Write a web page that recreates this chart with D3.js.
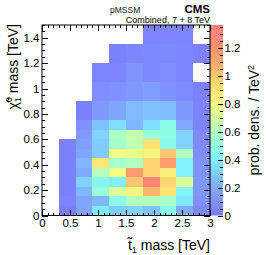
<!DOCTYPE html>
<html>
<head>
<meta charset="utf-8">
<script src="https://cdn.jsdelivr.net/npm/d3@7"></script>
<style>
  body { margin: 0; background: #fff; }
  svg { display: block; font-family: "Liberation Sans", Arial, sans-serif; }
</style>
</head>
<body>
<div id="chart"></div>
<script>
// bin edges [TeV]
const stopEdges = [0, 0.3, 0.6, 0.9, 1.2, 1.5, 1.8, 2.1, 2.4, 2.7, 3.0]
const lspEdges = [0, 0.075, 0.15, 0.225, 0.3, 0.375, 0.45, 0.525, 0.6, 0.675, 0.75, 0.9, 1.05, 1.2, 1.35, 1.5]

// prob. density per bin, one row per neutralino mass bin (lowest first), null = empty bin
const density = [
	[null, 0.02, 0.18, 0.38, 0.30, 0.32, 0.27, 0.46, 0.20, 0.06],
	[null, 0.04, 0.18, 0.24, 0.46, 0.60, 0.60, 0.56, 0.38, 0.10],
	[null, 0.03, 0.24, 0.52, 0.72, 0.82, 1.05, 0.90, 0.42, 0.12],
	[null, 0.03, 0.32, 0.44, 0.40, 1.00, 1.30, 0.95, 0.72, 0.12],
	[null, 0.03, 0.20, 0.60, 0.80, 1.15, 0.95, 0.85, 0.42, 0.10],
	[null, 0.03, 0.24, 0.88, 0.56, 0.60, 0.95, 1.15, 0.42, 0.10],
	[null, 0.03, 0.18, 0.30, 0.80, 0.77, 0.82, 1.00, 0.60, 0.08],
	[null, 0.03, 0.15, 0.30, 0.56, 0.64, 0.90, 0.46, 0.32, 0.06],
	[null, null, 0.13, 0.32, 0.58, 0.65, 0.52, 0.48, 0.32, 0.06],
	[null, null, 0.09, 0.27, 0.35, 0.24, 0.35, 0.48, 0.20, 0.04],
	[null, null, 0.03, 0.13, 0.18, 0.25, 0.27, 0.25, 0.13, 0.04],
	[null, null, null, 0.08, 0.09, 0.12, 0.15, 0.09, 0.07, 0.03],
	[null, null, null, 0.04, 0.04, 0.10, 0.06, 0.08, 0.05, null],
	[null, null, null, null, 0.03, 0.05, 0.06, 0.06, 0.05, 0.03],
	[null, null, null, null, null, null, 0.04, 0.05, 0.04, null]
]

const xTicks = [0, 0.5, 1, 1.5, 2, 2.5, 3]
const yTicks = [0, 0.2, 0.4, 0.6, 0.8, 1, 1.2, 1.4]
const zTicks = [0, 0.2, 0.4, 0.6, 0.8, 1, 1.2]
const zMax = 1.362

// palette (ROOT-like rainbow, washed out)
const paletteValues = [0, 0.1, 0.2, 0.3, 0.4, 0.5, 0.6, 0.7, 0.8, 0.9, 1.0, 1.1, 1.2, 1.362]
const paletteColors = ['#7a7aff', '#8092ff', '#80aaff', '#80ccff', '#80f0ff', '#92ffe0', '#b2ffc0',
	'#d6ff9c', '#f4fc84', '#ffe274', '#ffc672', '#ffa86c', '#ff9070', '#ff7f7f']

const width = 266, height = 255
const padLeft = 42, padRight = 210, padTop = 25, padBottom = 215.5
const barLeft = 210, barRight = 223

const x = d3.scaleLinear().domain([0, 3]).range([padLeft, padRight])
const y = d3.scaleLinear().domain([0, 1.5]).range([padBottom, padTop])
const z = d3.scaleLinear().domain([0, zMax]).range([padBottom, padTop])
const color = d3.scaleLinear().domain(paletteValues).range(paletteColors).clamp(true)

const fmt = d3.format('~g')
const font = '"Liberation Sans", Arial, sans-serif'

const svg = d3.select('#chart').append('svg')
	.attr('width', width)
	.attr('height', height)

// *** cells ***
const cells = []
density.forEach((row, i) => {
	row.forEach((v, j) => {
		if (v != null) cells.push({i, j, v})
	})
})

svg.append('g')
	.attr('class', 'cells')
	.selectAll('rect')
	.data(cells)
	.enter().append('rect')
	.attr('x', d => x(stopEdges[d.j]))
	.attr('y', d => y(lspEdges[d.i + 1]))
	.attr('width', d => x(stopEdges[d.j + 1]) - x(stopEdges[d.j]))
	.attr('height', d => y(lspEdges[d.i]) - y(lspEdges[d.i + 1]))
	.attr('fill', d => color(d.v))
	.attr('shape-rendering', 'crispEdges')

// *** colour bar ***
const grad = svg.append('defs').append('linearGradient')
	.attr('id', 'zgrad')
	.attr('x1', 0).attr('y1', 1).attr('x2', 0).attr('y2', 0)
grad.selectAll('stop')
	.data(paletteValues)
	.enter().append('stop')
	.attr('offset', d => d / zMax)
	.attr('stop-color', d => color(d))

svg.append('rect')
	.attr('x', barLeft)
	.attr('y', z(zMax))
	.attr('width', barRight - barLeft)
	.attr('height', z(0) - z(zMax))
	.attr('fill', 'url(#zgrad)')

// *** axes ***
const xMinor = d3.range(0, 31).map(i => i / 10)
const yMinor = d3.range(0, 31).map(i => i / 20)
const zMinor = d3.range(0, 28).map(i => i / 20)

function styleAxis(g) {
	g.select('.domain').remove()
	g.attr('font-family', font).attr('font-size', 11.5)
	g.selectAll('line').attr('stroke', '#000').attr('shape-rendering', 'crispEdges')
	g.selectAll('text').attr('fill', '#000')
}

// bottom
svg.append('g').attr('transform', `translate(0,${padBottom})`)
	.call(d3.axisBottom(x).tickValues(xMinor).tickSize(-3).tickFormat(''))
	.call(styleAxis)
svg.append('g').attr('transform', `translate(0,${padBottom})`)
	.call(d3.axisBottom(x).tickValues(xTicks).tickSize(-6).tickPadding(3).tickFormat(fmt))
	.call(styleAxis)
// top
svg.append('g').attr('transform', `translate(0,${padTop})`)
	.call(d3.axisTop(x).tickValues(xMinor).tickSize(-3).tickFormat(''))
	.call(styleAxis)
svg.append('g').attr('transform', `translate(0,${padTop})`)
	.call(d3.axisTop(x).tickValues(xTicks).tickSize(-6).tickFormat(''))
	.call(styleAxis)
// left
svg.append('g').attr('transform', `translate(${padLeft},0)`)
	.call(d3.axisLeft(y).tickValues(yMinor).tickSize(-3).tickFormat(''))
	.call(styleAxis)
svg.append('g').attr('transform', `translate(${padLeft},0)`)
	.call(d3.axisLeft(y).tickValues(yTicks).tickSize(-6).tickPadding(2.5).tickFormat(fmt))
	.call(styleAxis)
// right
svg.append('g').attr('transform', `translate(${padRight},0)`)
	.call(d3.axisRight(y).tickValues(yMinor).tickSize(-3).tickFormat(''))
	.call(styleAxis)
svg.append('g').attr('transform', `translate(${padRight},0)`)
	.call(d3.axisRight(y).tickValues(yTicks).tickSize(-6).tickFormat(''))
	.call(styleAxis)
// colour bar axis
svg.append('g').attr('transform', `translate(${barRight},0)`)
	.call(d3.axisRight(z).tickValues(zMinor).tickSize(-2.7).tickFormat(''))
	.call(styleAxis)
svg.append('g').attr('transform', `translate(${barRight},0)`)
	.call(d3.axisRight(z).tickValues(zTicks).tickSize(-5).tickPadding(1.5).tickFormat(fmt))
	.call(styleAxis)

// frame
svg.append('rect')
	.attr('x', padLeft).attr('y', padTop)
	.attr('width', padRight - padLeft).attr('height', padBottom - padTop)
	.attr('fill', 'none')
	.attr('stroke', '#000')
	.attr('stroke-width', 1)

// *** titles ***
const xTitle = svg.append('text')
	.attr('x', padRight).attr('y', 250)
	.attr('text-anchor', 'end')
	.attr('font-size', 14)
xTitle.append('tspan').text('t\u0303')
xTitle.append('tspan').attr('font-size', 9).attr('dy', 3).text('1')
xTitle.append('tspan').attr('dy', -3).text(' mass [TeV]')

const yTitle = svg.append('text')
	.attr('transform', `translate(17.5,${padTop - 1}) rotate(-90)`)
	.attr('text-anchor', 'end')
	.attr('font-size', 14)
yTitle.append('tspan').text('\u03c7\u0303')
yTitle.append('tspan').attr('font-size', 9).attr('dy', -6).text('0')
yTitle.append('tspan').attr('font-size', 9).attr('dx', -5).attr('dy', 9).text('1')
yTitle.append('tspan').attr('dy', -3).text(' mass [TeV]')

const zTitle = svg.append('text')
	.attr('transform', `translate(258.5,${(padTop + padBottom) / 2}) rotate(-90)`)
	.attr('text-anchor', 'middle')
	.attr('font-size', 14)
zTitle.append('tspan').text('prob. dens. / TeV')
zTitle.append('tspan').attr('font-size', 9).attr('dy', -5).text('2')

// labels on top
svg.append('text')
	.attr('x', 110).attr('y', 12.5)
	.attr('font-size', 8.5)
	.attr('fill', '#222')
	.text('pMSSM')
svg.append('text')
	.attr('x', padRight).attr('y', 13.3)
	.attr('text-anchor', 'end')
	.attr('font-size', 11.5)
	.attr('font-weight', 'bold')
	.text('CMS')
svg.append('text')
	.attr('x', padRight).attr('y', 23.3)
	.attr('text-anchor', 'end')
	.attr('font-size', 9)
	.text('Combined, 7 + 8 TeV')
</script>
</body>
</html>
